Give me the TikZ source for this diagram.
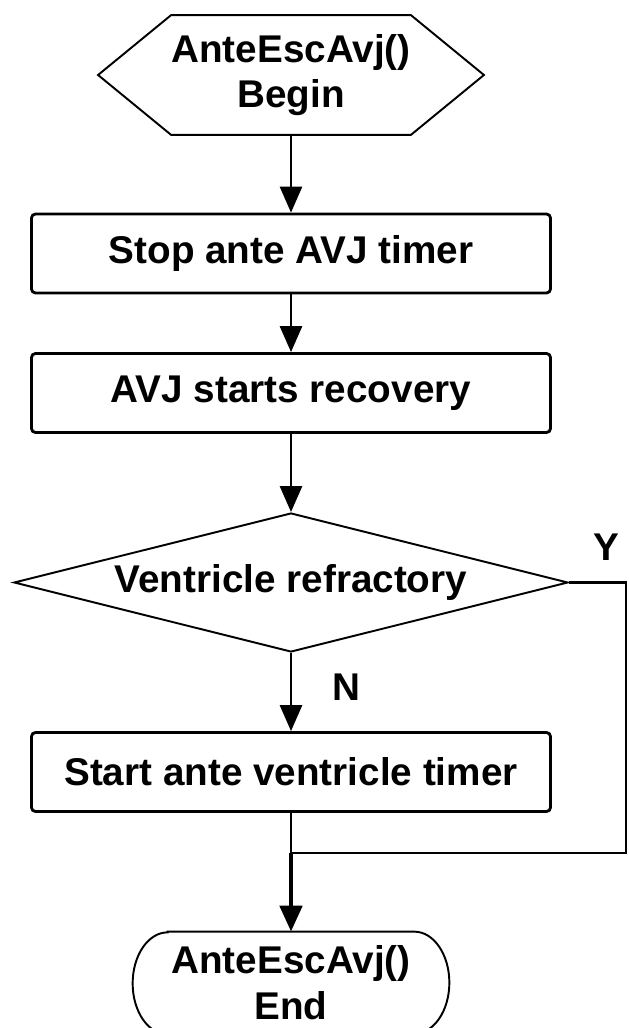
\documentclass[tikz,border=0pt]{standalone}
\usepackage{fontspec}
\setmainfont{Liberation Sans}
\usetikzlibrary{shapes.geometric,arrows.meta}

\begin{document}
\begin{tikzpicture}[
	every node/.style={font=\fontsize{22}{26}\selectfont\bfseries},
	edge/.style={line width=1.1pt},
	link/.style={line width=1.6pt},
	arr/.style={link,-{Triangle[width=0.44cm,length=0.52cm]}},
	proc/.style={draw,link,rounded corners=0.08cm,minimum width=10.38cm,minimum height=1.58cm,inner sep=0pt},
	dec/.style={draw,edge,diamond,aspect=4,minimum width=11.08cm,minimum height=2.78cm,inner sep=0pt}]
						\useasboundingbox (0,0) rectangle (12.56,-20.56);
						\node[minimum width=4.28cm,minimum height=2.38cm,inner sep=0pt,align=center] (begin) at (5.82,-1.5) {AnteEscAvj()\\Begin};
						\draw[edge] (begin.north west)--(begin.north east)--([xshift=1.46cm]begin.east)--(begin.south east)--(begin.south west)--([xshift=-1.46cm]begin.west)--cycle;
						\node[proc] (stop) at (5.82,-5.07) {Stop ante AVJ timer};
						\node[proc] (recov) at (5.82,-7.86) {AVJ starts recovery};
						\node[dec] (refr) at (5.82,-11.65) {Ventricle refractory};
						\node[proc] (start) at (5.82,-15.44) {Start ante ventricle timer};
						\node[minimum width=4.92cm,minimum height=2.04cm,inner sep=0pt,align=center] (end) at (5.82,-19.66) {AnteEscAvj()\\End};
						\draw[edge] (end.north west)--(end.north east) arc[start angle=90,end angle=-90,x radius=0.7cm,y radius=1.02cm]--(end.south west) arc[start angle=270,end angle=90,x radius=0.7cm,y radius=1.02cm]--cycle;
						\coordinate (yturn) at (12.52,-11.65);
						\coordinate (join) at (5.82,-17.06);
						\draw[arr] (begin)--(stop);
						\draw[arr] (stop)--(recov);
						\draw[arr] (recov)--(refr);
						\draw[arr] (refr)--(start);
						\draw[link] (refr.east)--(yturn)|-(join);
						\draw[link] (start)--(join);
						\draw[arr,line width=2.8pt] (join)--(end);
						\node (ylab) at (12.12,-10.94) {Y};
						\node (nlab) at (6.92,-13.74) {N};
					\end{tikzpicture}
\end{document}
